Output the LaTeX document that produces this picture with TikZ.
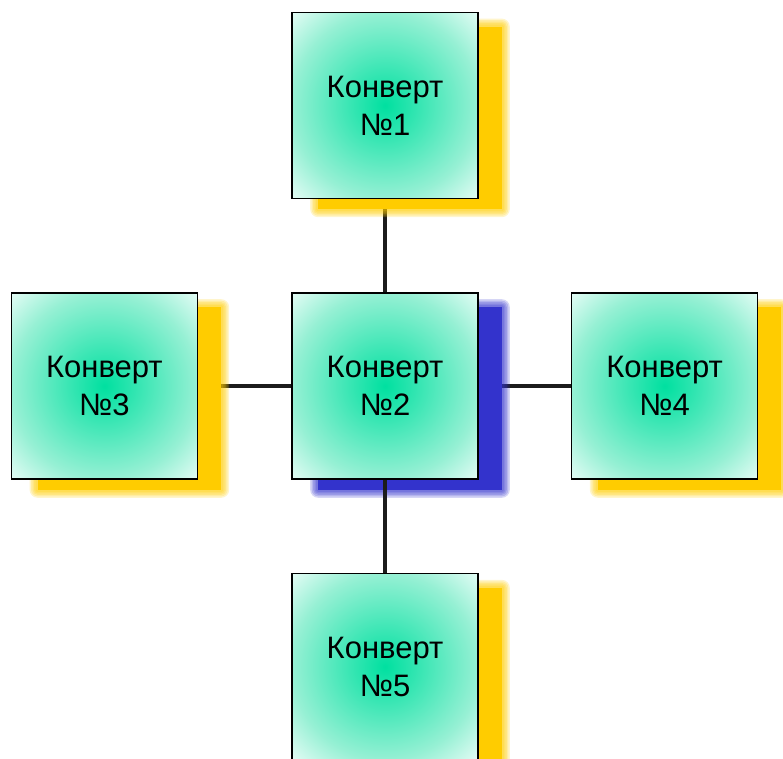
\documentclass[tikz,border=0pt]{standalone}
\usepackage{fontspec}
\setmainfont{Liberation Sans}
\usetikzlibrary{positioning, backgrounds}

\definecolor{mintc}{RGB}{0,224,160}
\definecolor{mintm}{RGB}{150,240,212}
\definecolor{mintw}{RGB}{228,252,245}
\colorlet{mintq}{mintc!50!mintm}
\definecolor{shyellow}{RGB}{255,204,0}
\definecolor{shblue}{RGB}{51,51,204}
\definecolor{linkc}{RGB}{28,28,28}

\pgfdeclareradialshading{mintglow}{\pgfpoint{0bp}{0bp}}{color(0bp)=(mintc); color(12.5bp)=(mintq); color(25bp)=(mintm); color(35.4bp)=(mintw); color(50bp)=(mintw)}

\begin{document}
\begin{tikzpicture}[x=1pt, y=-1pt,
    env/.style={draw=black, line width=1.6pt, shading=mintglow,
      minimum width=186pt, minimum height=186pt, inner sep=0pt,
      align=center, font=\fontsize{31}{38}\selectfont},
    link/.style={linkc, line width=4.5pt}]
        \useasboundingbox (0,0) rectangle (783,758);

        % Central envelope and its four neighbours
        \node[env] (n2) at (385,386) {Конверт\\№2};
        \node[env, above=93pt of n2] (n1) {Конверт\\№1};
        \node[env, left=93pt of n2] (n3) {Конверт\\№3};
        \node[env, right=92pt of n2] (n4) {Конверт\\№4};
        \node[env, below=93pt of n2] (n5) {Конверт\\№5};

        \begin{scope}[on background layer]
            % Links under the shadows
            \draw[link] (n2) -- (n1);
            \draw[link] (n2) -- (n3);
            \draw[link] (n2) -- (n4);

            % Soft shadows
            \foreach \n/\c in {n1/shyellow, n2/shblue, n3/shyellow,
            n4/shyellow, n5/shyellow}{
                \foreach \b in {8,6.5,5,3.5,2}
                    \fill[\c, opacity=0.2, rounded corners=\b pt]
                    ([shift={(27-\b,15-\b)}]\n.north west) rectangle
                    ([shift={(23+\b,10+\b)}]\n.south east);
                \fill[\c] ([shift={(27,15)}]\n.north west) rectangle
                ([shift={(23,10)}]\n.south east);
            }

            % Link over the blue shadow
            \draw[link] (n2) -- (n5);
        \end{scope}
    \end{tikzpicture}
\end{document}
